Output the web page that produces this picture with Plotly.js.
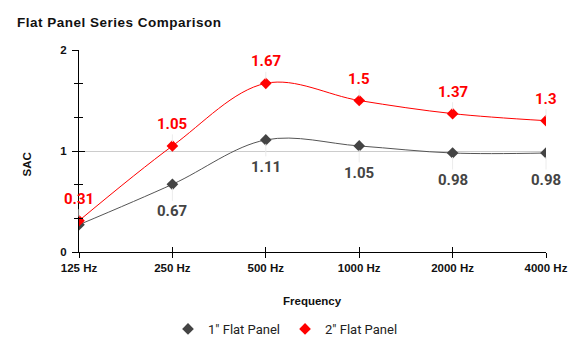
<!DOCTYPE html>
<html><head><meta charset="utf-8">
<script src="https://cdn.plot.ly/plotly-3.0.1.min.js"></script>
<style>html,body{margin:0;padding:0;background:#fff}#chart{width:571px;height:354px}
#chart .gtitle{letter-spacing:0.5px}</style>
</head><body><div id="chart"></div>
<script>
const categories = ["125 Hz","250 Hz","500 Hz","1000 Hz","2000 Hz","4000 Hz"];
const panel1Name = '1" Flat Panel';
const panel2Name = '2" Flat Panel';
const panel1 = [0.27, 0.67, 1.11, 1.05, 0.98, 0.98];
const panel2 = [0.31, 1.05, 1.67, 1.5, 1.37, 1.3];
const panel1Labels = [null, "0.67", "1.11", "1.05", "0.98", "0.98"];
const panel2Labels = ["0.31", "1.05", "1.67", "1.5", "1.37", "1.3"];
const yTicks = [0, 1, 2];
const yMinorTicks = [1/3, 2/3, 4/3, 5/3];

const dark = '#444444', red = '#ff0000';
const xIdx = categories.map((c,i)=>i);

const traces = [
  {x: xIdx, y: panel1, type:'scatter', mode:'lines', showlegend:false, hoverinfo:'skip',
   line:{shape:'spline', smoothing:1, color:'#555', width:1}},
  {x: xIdx, y: panel2, type:'scatter', mode:'lines', showlegend:false, hoverinfo:'skip',
   line:{shape:'spline', smoothing:1, color:red, width:1}},
  {x: xIdx, y: panel1, name: panel1Name, type:'scatter', mode:'markers',
   marker:{symbol:'diamond', size:9, color:dark}},
  {x: xIdx, y: panel2, name: panel2Name, type:'scatter', mode:'markers',
   marker:{symbol:'diamond', size:9, color:red}}
];

const labelFont = {family:'Roboto, Arial, sans-serif', size:15, weight:'bold'};
const annotations = [];
panel2.forEach((v,i)=>{ if(panel2Labels[i]) annotations.push({x:i, y:v, xref:'x', yref:'y', text:panel2Labels[i],
  showarrow:true, arrowhead:0, arrowwidth:1, arrowcolor:'#ececec', ax:0, ay:-22, standoff:4,
  font:Object.assign({color:red}, labelFont)}); });
panel1.forEach((v,i)=>{ if(panel1Labels[i]) annotations.push({x:i, y:v, xref:'x', yref:'y', text:panel1Labels[i],
  showarrow:true, arrowhead:0, arrowwidth:1, arrowcolor:'#ececec', ax:0, ay:27, standoff:4,
  font:Object.assign({color:dark}, labelFont)}); });

const axisTitleFont = {family:'Liberation Sans, Arial, sans-serif', size:11.5, color:'#111', weight:'bold'};
annotations.push({text:'Frequency', xref:'paper', yref:'paper', x:0.5, y:-(302-253)/203, xanchor:'center', yanchor:'middle',
  showarrow:false, font:axisTitleFont});
annotations.push({text:'SAC', xref:'paper', yref:'paper', x:-(79-27)/467, y:(253-165)/203, xanchor:'center', yanchor:'middle',
  textangle:-90, showarrow:false, font:axisTitleFont});

const tickFont = {family:'Liberation Sans, Arial, sans-serif', size:11.5, color:'#111', weight:'bold'};
const layout = {
  width:571, height:354,
  margin:{l:79, r:25, t:50, b:101},
  paper_bgcolor:'#fff', plot_bgcolor:'#fff',
  title:{text:'Flat Panel Series Comparison', x:17/571, xanchor:'left', y:1-22/354, yanchor:'middle',
    font:{family:'Liberation Sans, Arial, sans-serif', size:13.5, color:'#111', weight:'bold'}},
  xaxis:{type:'linear', range:[0,5], tickvals:xIdx, ticktext:categories, ticks:'outside', ticklen:5,
    tickcolor:'#000', showline:true, linecolor:'#000', linewidth:1, showgrid:false, zeroline:false,
    tickfont:tickFont, automargin:false},
  xaxis2:{type:'linear', range:[0,5], tickvals:xIdx, overlaying:'x', anchor:'y', side:'bottom',
    ticks:'inside', ticklen:5, tickcolor:'#000', showticklabels:false, showline:false, showgrid:false, zeroline:false},
  yaxis:{range:[0,2], tickvals:yTicks, ticks:'outside', ticklen:6, tickcolor:'#000',
    minor:{tickvals:yMinorTicks, ticks:'outside', ticklen:4, tickcolor:'#000', showgrid:false},
    showline:true, linecolor:'#000', linewidth:1, showgrid:true, gridcolor:'#cccccc', zeroline:false,
    tickfont:tickFont, ticklabelstandoff:3, automargin:false},
  yaxis2:{range:[0,2], tickvals:yTicks, overlaying:'y', anchor:'x', side:'left', ticks:'inside', ticklen:6, tickcolor:'#000',
    minor:{tickvals:yMinorTicks, ticks:'inside', ticklen:4, tickcolor:'#000', showgrid:false},
    showticklabels:false, showline:false, showgrid:false, zeroline:false},
  showlegend:true,
  legend:{orientation:'h', x:(285.5-79)/467, xanchor:'center', y:-(329-253)/203, yanchor:'middle',
    font:{family:'Roboto, Arial, sans-serif', size:13, color:'#222'}, itemwidth:30},
  annotations: annotations
};
traces.push({x:[0], y:[0], xaxis:'x2', yaxis:'y2', mode:'markers', marker:{opacity:0}, showlegend:false, hoverinfo:'skip'});
Plotly.newPlot('chart', traces, layout, {displayModeBar:false, staticPlot:true});
</script></body></html>
